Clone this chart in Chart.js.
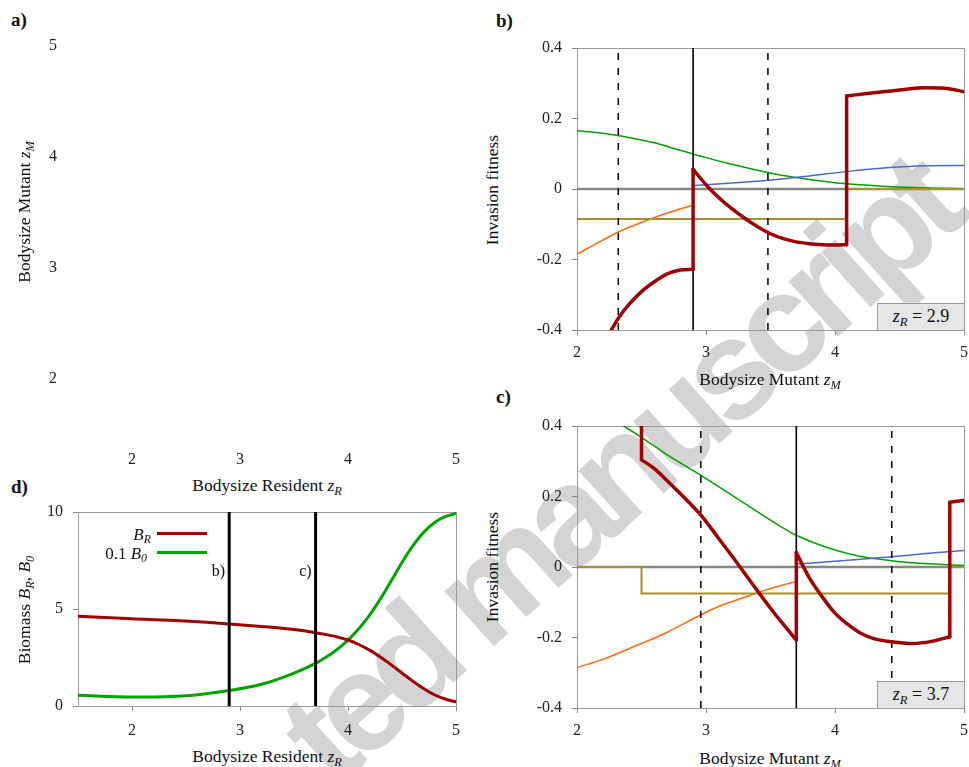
<!DOCTYPE html>
<html>
<head>
<meta charset="utf-8">
<script src="https://cdn.jsdelivr.net/npm/chart.js@4.4.0/dist/chart.umd.min.js"></script>
<style>
  body { margin: 0; background: #fff; width: 969px; height: 767px; overflow: hidden; position: relative;
         font-family: "Liberation Serif", "DejaVu Serif", serif; color: #111; }
  .wrap { position: absolute; z-index: 1; }
  canvas { display: block; }
  .t { position: absolute; white-space: nowrap; font-size: 17.5px; transform: translate(-50%, -50%); z-index: 2; line-height: 1; }
  .ty { transform: translate(-50%, -50%) rotate(-90deg); }
  .lab { position: absolute; font-weight: bold; font-size: 19px; z-index: 2; line-height: 1; }
  sub { font-size: 0.7em; vertical-align: -0.3em; line-height: 0; font-style: italic; }
  .zbox { position: absolute; z-index: 3; background: #e6e6e6; border: 1px solid #999; box-sizing: border-box;
          font-size: 18px; text-align: center; line-height: 25px; }
  .leg { position: absolute; z-index: 2; font-size: 17px; line-height: 1; transform: translate(-100%, -50%); white-space: nowrap; }
  .legline { position: absolute; z-index: 2; height: 3px; width: 50px; }
  #wm { position: absolute; z-index: 0; left: 618px; top: 470px; white-space: nowrap; line-height: 1;
        font-family: "Liberation Sans", sans-serif; font-weight: bold; font-size: 140px; letter-spacing: -11px; color: #d4d4d4;
        transform: translate(-50%, -50%) rotate(-42deg); }
</style>
</head>
<body>
<div id="wm">ted manuscript</div>

<div class="wrap" style="left:0;top:36px"><canvas id="chartA" width="480" height="438"></canvas></div>
<div class="wrap" style="left:505px;top:38px"><canvas id="chartB" width="464" height="332"></canvas></div>
<div class="wrap" style="left:505px;top:416px"><canvas id="chartC" width="464" height="332"></canvas></div>
<div class="wrap" style="left:0;top:502px"><canvas id="chartD" width="480" height="244"></canvas></div>

<div class="lab" style="left:11px;top:10px">a)</div>
<div class="lab" style="left:496px;top:11px">b)</div>
<div class="lab" style="left:496px;top:387px">c)</div>
<div class="lab" style="left:11px;top:477px">d)</div>

<div class="t ty" style="left:25px;top:212px">Bodysize Mutant <i>z</i><sub>M</sub></div>
<div class="t" style="left:267px;top:486px">Bodysize Resident <i>z</i><sub>R</sub></div>
<div class="t ty" style="left:493px;top:190px">Invasion fitness</div>
<div class="t" style="left:770px;top:380px">Bodysize Mutant <i>z</i><sub>M</sub></div>
<div class="t ty" style="left:493px;top:567px">Invasion fitness</div>
<div class="t" style="left:770px;top:759px">Bodysize Mutant <i>z</i><sub>M</sub></div>
<div class="t ty" style="left:25px;top:610px">Biomass <i>B</i><sub>R</sub>, <i>B</i><sub>0</sub></div>
<div class="t" style="left:267px;top:757px">Bodysize Resident <i>z</i><sub>R</sub></div>

<div class="zbox" style="left:877px;top:303px;width:88px;height:28px"><i>z</i><sub>R</sub>&nbsp;=&nbsp;2.9</div>
<div class="zbox" style="left:877px;top:681px;width:88px;height:28px"><i>z</i><sub>R</sub>&nbsp;=&nbsp;3.7</div>

<div class="leg" style="left:151px;top:534px"><i>B</i><sub>R</sub></div>
<div class="leg" style="left:147px;top:553px">0.1 <i>B</i><sub>0</sub></div>
<div class="legline" style="left:157px;top:532px;background:#a00000"></div>
<div class="legline" style="left:157px;top:551px;background:#00a300"></div>

<script>
// ---------- data ----------
const mutTicks = [2, 3, 4, 5];
const resTicks = [2, 3, 4, 5];
const aMutTicks = [2, 3, 4, 5];
const fitTicks = [-0.4, -0.2, 0, 0.2, 0.4];
const bioTicks = [0, 5, 10];

// panel b, z_R = 2.9
const bResident = 2.9;
const bDashed = [2.32, 3.48];
const bRedX = [[2.20, 2.266, 2.32, 2.40, 2.50, 2.60, 2.70, 2.80, 2.90],
               [2.90, 3.00, 3.10, 3.20, 3.30, 3.40, 3.50, 3.60, 3.70, 3.80, 3.90, 4.00, 4.09],
               [4.09, 4.30, 4.50, 4.70, 4.85, 5.00]];
const bRedY = [[-0.44, -0.40, -0.367, -0.329, -0.291, -0.263, -0.241, -0.230, -0.228],
               [0.056, 0.012, -0.025, -0.056, -0.083, -0.107, -0.127, -0.141, -0.150, -0.155, -0.158, -0.159, -0.158],
               [0.264, 0.273, 0.281, 0.287, 0.286, 0.276]];
const bGreenX = [2.0, 2.2, 2.4, 2.6, 2.8, 3.0, 3.2, 3.4, 3.6, 3.8, 4.0, 4.2, 4.4, 4.6, 4.8, 5.0];
const bGreenY = [0.165, 0.158, 0.146, 0.131, 0.110, 0.089, 0.070, 0.053, 0.038, 0.027, 0.018, 0.012, 0.007, 0.004, 0.002, 0.001];
const bBlueX = [2.9, 3.2, 3.48, 3.8, 4.1, 4.4, 4.7, 5.0];
const bBlueY = [0.010, 0.017, 0.025, 0.037, 0.050, 0.060, 0.066, 0.067];
const bOrangeX = [2.0, 2.2, 2.32, 2.5, 2.7, 2.9];
const bOrangeY = [-0.185, -0.145, -0.122, -0.095, -0.068, -0.046];
const bOliveX = [2.0, 4.09, 5.0];
const bOliveY = [-0.085, 0, 0];

// panel c, z_R = 3.7
const cResident = 3.7;
const cDashed = [2.96, 4.44];
const cRedX = [[2.5],
               [2.5, 2.6, 2.72, 2.85, 2.97, 3.1, 3.2, 3.3, 3.4, 3.5, 3.6, 3.7],
               [3.7, 3.8, 3.9, 4.0, 4.1, 4.2, 4.3, 4.44, 4.6, 4.75, 4.89],
               [4.89, 5.0]];
const cRedY = [[0.46],
               [0.304, 0.279, 0.237, 0.190, 0.143, 0.080, 0.032, -0.018, -0.068, -0.117, -0.163, -0.207],
               [0.041, -0.030, -0.084, -0.131, -0.163, -0.188, -0.203, -0.212, -0.217, -0.211, -0.198],
               [0.184, 0.189]];
const cGreenX = [2.0, 2.2, 2.36, 2.5, 2.7, 2.97, 3.2, 3.5, 3.7, 4.0, 4.2, 4.44, 4.6, 4.8, 5.0];
const cGreenY = [0.47, 0.43, 0.40, 0.368, 0.318, 0.258, 0.204, 0.133, 0.090, 0.048, 0.030, 0.018, 0.012, 0.008, 0.004];
const cBlueX = [3.7, 4.0, 4.2, 4.44, 4.7, 5.0];
const cBlueY = [0.0085, 0.016, 0.022, 0.029, 0.038, 0.047];
const cOrangeX = [2.0, 2.2, 2.5, 2.7, 2.97, 3.1, 3.3, 3.5, 3.7];
const cOrangeY = [-0.285, -0.262, -0.217, -0.185, -0.134, -0.112, -0.086, -0.061, -0.041];
const cOliveX = [2.0, 2.5, 4.89, 5.0];
const cOliveY = [0, -0.075, 0, 0];

// panel d, biomass
const dZR = [1.5, 2.0, 2.5, 2.9, 3.2, 3.5, 3.7, 3.8, 3.9, 4.0, 4.1, 4.2, 4.3, 4.4, 4.5, 4.6, 4.7, 4.8, 4.9, 5.0];
const dBR = [4.62, 4.50, 4.38, 4.23, 4.10, 3.94, 3.78, 3.68, 3.56, 3.40, 3.17, 2.88, 2.52, 2.12, 1.70, 1.28, 0.90, 0.58, 0.36, 0.21];
const dB0 = [0.55, 0.46, 0.53, 0.80, 1.12, 1.70, 2.20, 2.52, 2.92, 3.40, 3.98, 4.68, 5.52, 6.45, 7.40, 8.25, 8.95, 9.45, 9.76, 9.92];
const dMarks = [2.9, 3.7];
const dMarkLabels = ['b)', 'c)'];

// ---------- colours ----------
const RED = '#a00000', GREEN = '#00a300', BLUE = '#4a68dc', ORANGE = '#ff6a10', OLIVE = '#a8922a', ZERO = '#888888';
const FONT = { family: '"Liberation Serif", "DejaVu Serif", serif', size: 16 };

function line(xs, ys, color, width, extra) {
  return Object.assign({
    data: xs.map((x, i) => ({ x: x, y: ys[i] })),
    borderColor: color, borderWidth: width, pointRadius: 0, fill: false,
    cubicInterpolationMode: 'monotone', borderCapStyle: 'round', borderJoinStyle: 'miter'
  }, extra || {});
}

// smooth pieces joined by straight vertical jumps
function pieces(px, py, color, width) {
  const out = [];
  px.forEach((xs, i) => {
    if (xs.length > 1) out.push(line(xs, py[i], color, width));
    if (i + 1 < px.length) {
      const k = xs.length - 1;
      out.push(line([xs[k], px[i + 1][0]], [py[i][k], py[i + 1][0]], color, width,
        { cubicInterpolationMode: 'default', tension: 0 }));
    }
  });
  return out;
}

function vline(x, y0, y1, color, width, dash) {
  return line([x, x], [y0, y1], color, width, { tension: 0, cubicInterpolationMode: 'default', borderDash: dash || [], borderCapStyle: 'butt' });
}

function axis(pos, min, max, ticks, size, pad, marks) {
  return {
    type: 'linear', position: pos, min: min, max: max,
    afterBuildTicks: s => { s.ticks = ticks.map(v => ({ value: v })); },
    afterFit: s => {
      if (pos === 'left') s.width = size; else s.height = size;
      s.paddingLeft = 0; s.paddingRight = 0; s.paddingTop = 0; s.paddingBottom = 0;
    },
    grid: { display: marks, drawOnChartArea: false, drawTicks: true, tickLength: 5, color: '#888', tickColor: '#888', tickWidth: 1 },
    border: { display: false },
    ticks: { color: '#222', font: FONT, padding: pad, autoSkip: false, maxRotation: 0,
             callback: v => String(Math.round(v * 10) / 10) }
  };
}

const framePlugin = {
  id: 'frame',
  beforeDatasetsDraw(chart, args, opts) {
    if (!opts.show) return;
    const a = chart.chartArea, ctx = chart.ctx;
    ctx.save();
    ctx.strokeStyle = '#9a9a9a';
    ctx.lineWidth = 1;
    ctx.strokeRect(Math.round(a.left) + 0.5, Math.round(a.top) + 0.5, Math.round(a.right - a.left), Math.round(a.bottom - a.top));
    ctx.restore();
  }
};

const markLabelPlugin = {
  id: 'markLabels',
  afterDatasetsDraw(chart, args, opts) {
    if (!opts.labels) return;
    const ctx = chart.ctx, xs = chart.scales.x, ys = chart.scales.y;
    ctx.save();
    ctx.font = '16px "Liberation Serif", "DejaVu Serif", serif';
    ctx.fillStyle = '#111';
    ctx.textAlign = 'right';
    ctx.textBaseline = 'middle';
    opts.labels.forEach((t, i) => ctx.fillText(t, xs.getPixelForValue(opts.at[i]) - 4, ys.getPixelForValue(6.9)));
    ctx.restore();
  }
};

function makeChart(id, datasets, scales, padding, pluginOpts) {
  return new Chart(document.getElementById(id), {
    type: 'line',
    data: { datasets: datasets },
    options: {
      responsive: false, animation: false, devicePixelRatio: 1,
      layout: { padding: padding },
      scales: scales,
      plugins: Object.assign({ legend: { display: false }, tooltip: { enabled: false } }, pluginOpts)
    },
    plugins: [framePlugin, markLabelPlugin]
  });
}

// ---------- panel a (empty map) ----------
makeChart('chartA', [], {
  x: axis('bottom', 1.5, 5, resTicks, 40, 11, false),
  y: axis('left', 1.5, 5, aMutTicks, 78, 16, false)
}, { top: 10, right: 24, left: 0, bottom: 0 }, { frame: { show: false } });

// ---------- panels b and c ----------
function fitnessPanel(id, redX, redY, resident, dashed, oliveX, oliveY, blueX, blueY, greenX, greenY, orangeX, orangeY) {
  const lo = fitTicks[0], hi = fitTicks[fitTicks.length - 1];
  const ds = []
    .concat(pieces(redX, redY, RED, 3.5))
    .concat([vline(resident, lo, hi, '#000', 1.6)])
    .concat(dashed.map(v => vline(v, lo, hi, '#000', 1.5, [7, 8])))
    .concat([line(oliveX, oliveY, OLIVE, 2, { stepped: 'before', cubicInterpolationMode: 'default' })])
    .concat([line(blueX, blueY, BLUE, 1.5)])
    .concat([line(greenX, greenY, GREEN, 1.5)])
    .concat([line(orangeX, orangeY, ORANGE, 1.5)])
    .concat([line([mutTicks[0], mutTicks[mutTicks.length - 1]], [0, 0], ZERO, 2.5, { tension: 0, cubicInterpolationMode: 'default' })]);
  makeChart(id, ds, {
    x: axis('bottom', 2, 5, mutTicks, 40, 8, true),
    y: axis('left', lo, hi, fitTicks, 72, 10, true)
  }, { top: 10, right: 5, left: 0, bottom: 0 }, { frame: { show: true } });
}

fitnessPanel('chartB', bRedX, bRedY, bResident, bDashed, bOliveX, bOliveY, bBlueX, bBlueY, bGreenX, bGreenY, bOrangeX, bOrangeY);
fitnessPanel('chartC', cRedX, cRedY, cResident, cDashed, cOliveX, cOliveY, cBlueX, cBlueY, cGreenX, cGreenY, cOrangeX, cOrangeY);

// ---------- panel d ----------
const dSets = dMarks.map(v => vline(v, bioTicks[0], bioTicks[bioTicks.length - 1], '#000', 3))
  .concat([line(dZR, dBR, RED, 3), line(dZR, dB0, GREEN, 3)]);
makeChart('chartD', dSets, {
  x: axis('bottom', 1.5, 5, resTicks, 40, 10, true),
  y: axis('left', 0, 10, bioTicks, 78, 10, true)
}, { top: 10, right: 24, left: 0, bottom: 0 }, { frame: { show: true }, markLabels: { labels: dMarkLabels, at: dMarks } });
</script>
</body>
</html>
